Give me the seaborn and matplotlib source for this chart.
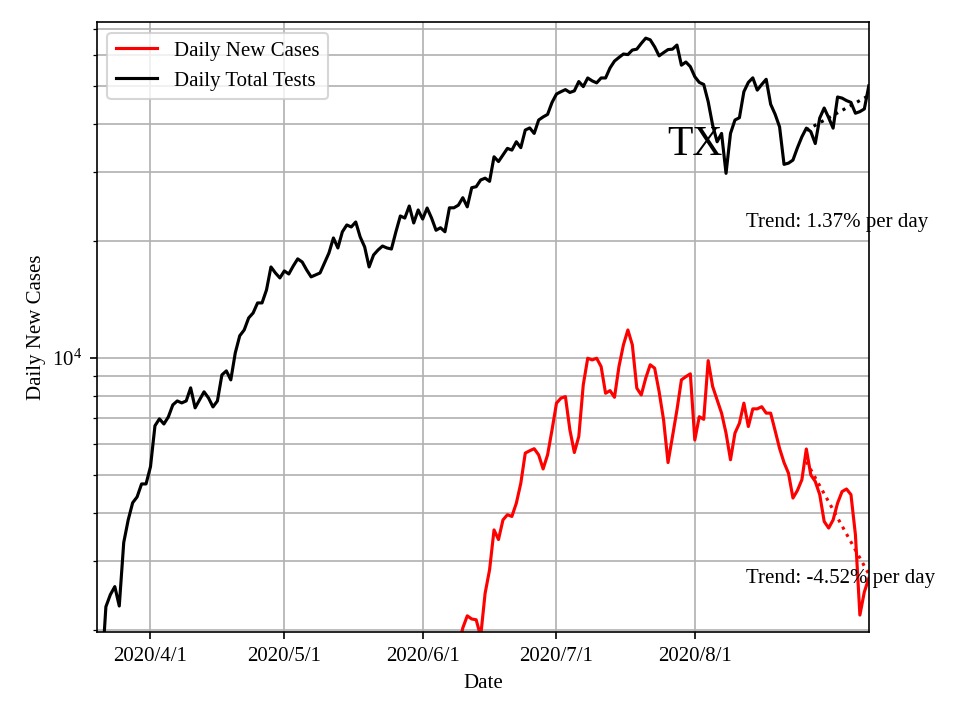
import numpy as np
import pandas as pd
import seaborn as sns
import matplotlib.pyplot as plt
import matplotlib.dates as mdates
from matplotlib.ticker import FuncFormatter

plt.rcParams['font.family'] = ['Liberation Serif', 'DejaVu Serif']
plt.rcParams['mathtext.fontset'] = 'stix'

# daily total tests, 2020-03-21 .. 2020-09-09
tests = [
    1500, 2290, 2460, 2580, 2300, 3350, 3830, 4240, 4390, 4740,
    4740, 5250, 6690, 6970, 6760, 7050, 7570, 7750, 7660, 7750,
    8375, 7440, 7800, 8180, 7890, 7480, 7750, 9040, 9260, 8780,
    10300, 11400, 11800, 12670, 13050, 13850, 13850, 14960, 17140, 16540,
    16060, 16740, 16440, 17240, 17980, 17650, 16840, 16160, 16350, 16540,
    17560, 18620, 20350, 19180, 21100, 21980, 21720, 22370, 20470, 19300,
    17140, 18400, 18950, 19400, 19180, 19060, 21100, 23180, 22900, 24590,
    22240, 24020, 22760, 24300, 22900, 21300, 21620, 21110, 24330, 24330,
    24710, 25830, 24470, 27410, 27570, 28690, 29000, 28460, 32920, 32000,
    33260, 34600, 34240, 35980, 34740, 38560, 39050, 37800, 40920, 41680,
    42300, 45420, 47740, 48400, 49000, 48180, 48640, 51400, 49880, 52500,
    51600, 51000, 52500, 52500, 55720, 58020, 59290, 60500, 60300, 61940,
    62270, 64430, 66460, 65830, 63130, 59850, 61000, 62110, 62270, 63800,
    56630, 57700, 56140, 52900, 51140, 50520, 45620, 39700, 35980, 37800,
    29840, 37800, 40920, 41490, 48400, 51140, 52540, 48850, 50520, 52100,
    44940, 42350, 39300, 31470, 31700, 32280, 34720, 37050, 39000, 38200,
    35600, 41400, 43950, 41490, 39000, 46900, 46600, 45920, 45420, 42600,
    43010, 43700, 50100,
]

# daily new cases, 2020-06-09 .. 2020-09-09
cases = [
    1800, 2020, 2170, 2130, 2120, 1920, 2480, 2850, 3610, 3410,
    3830, 3950, 3910, 4230, 4760, 5690, 5770, 5840, 5630, 5180,
    5630, 6530, 7650, 7880, 7950, 6530, 5710, 6280, 8525, 9980,
    9880, 9980, 9500, 8110, 8240, 7920, 9500, 10800, 11800, 10800,
    8360, 8030, 8870, 9600, 9410, 8190, 6930, 5380, 6280, 7350,
    8780, 8950, 9100, 6150, 7060, 6950, 9840, 8440, 7800, 7210,
    6405, 5470, 6405, 6790, 7650, 6660, 7395, 7395, 7490, 7210,
    7210, 6500, 5850, 5380, 5050, 4360, 4560, 4860, 5830, 5000,
    4810, 4450, 3795, 3650, 3830, 4230, 4530, 4600, 4450, 3510,
    2180, 2500, 2710,
]

test_dates = pd.date_range('2020-03-21', periods=len(tests), freq='D')
case_dates = pd.date_range('2020-06-09', periods=len(cases), freq='D')

state = 'TX'
trend_label_tests = 'Trend: 1.37% per day'
trend_label_cases = 'Trend: -4.52% per day'
trend_window = 15
xticks = pd.to_datetime(['2020-04-01', '2020-05-01', '2020-06-01', '2020-07-01', '2020-08-01'])

df_tests = pd.DataFrame({'Date': test_dates, 'value': tests})
df_cases = pd.DataFrame({'Date': case_dates, 'value': cases})


def trend(df):
    # exponential fit over the last few days
    tail = df.tail(trend_window)
    t = np.arange(len(tail))
    k, b = np.polyfit(t, np.log(tail['value']), 1)
    return tail['Date'], np.exp(b + k * t)


fig, ax = plt.subplots(figsize=(6.4, 4.8), dpi=150)

sns.lineplot(data=df_cases, x='Date', y='value', color='red', label='Daily New Cases', ax=ax)
sns.lineplot(data=df_tests, x='Date', y='value', color='black', label='Daily Total Tests', ax=ax)

d, v = trend(df_cases)
ax.plot(d, v, ':', color='red')
d, v = trend(df_tests)
ax.plot(d, v, ':', color='black')

ax.set_yscale('log')
ax.set_ylim(1970, 73000)
ax.set_xlim(pd.Timestamp('2020-03-20'), pd.Timestamp('2020-09-09'))
ax.set_xticks(xticks)
ax.xaxis.set_major_formatter(FuncFormatter(
    lambda x, pos: '{0.year}/{0.month}/{0.day}'.format(mdates.num2date(x))))

ax.grid(True, which='both', color='#b0b0b0', linewidth=0.8)
ax.set_xlabel('Date')
ax.set_ylabel('Daily New Cases', labelpad=3)
ax.legend(loc='upper left')

ax.text(0.775, 0.80, state, transform=ax.transAxes, fontsize=20, ha='center', va='center')
ax.text(0.841, 0.664, trend_label_tests, transform=ax.transAxes)
ax.text(0.841, 0.080, trend_label_cases, transform=ax.transAxes)

plt.subplots_adjust(left=0.101, right=0.905, top=0.969, bottom=0.122)
plt.savefig('out.png')
